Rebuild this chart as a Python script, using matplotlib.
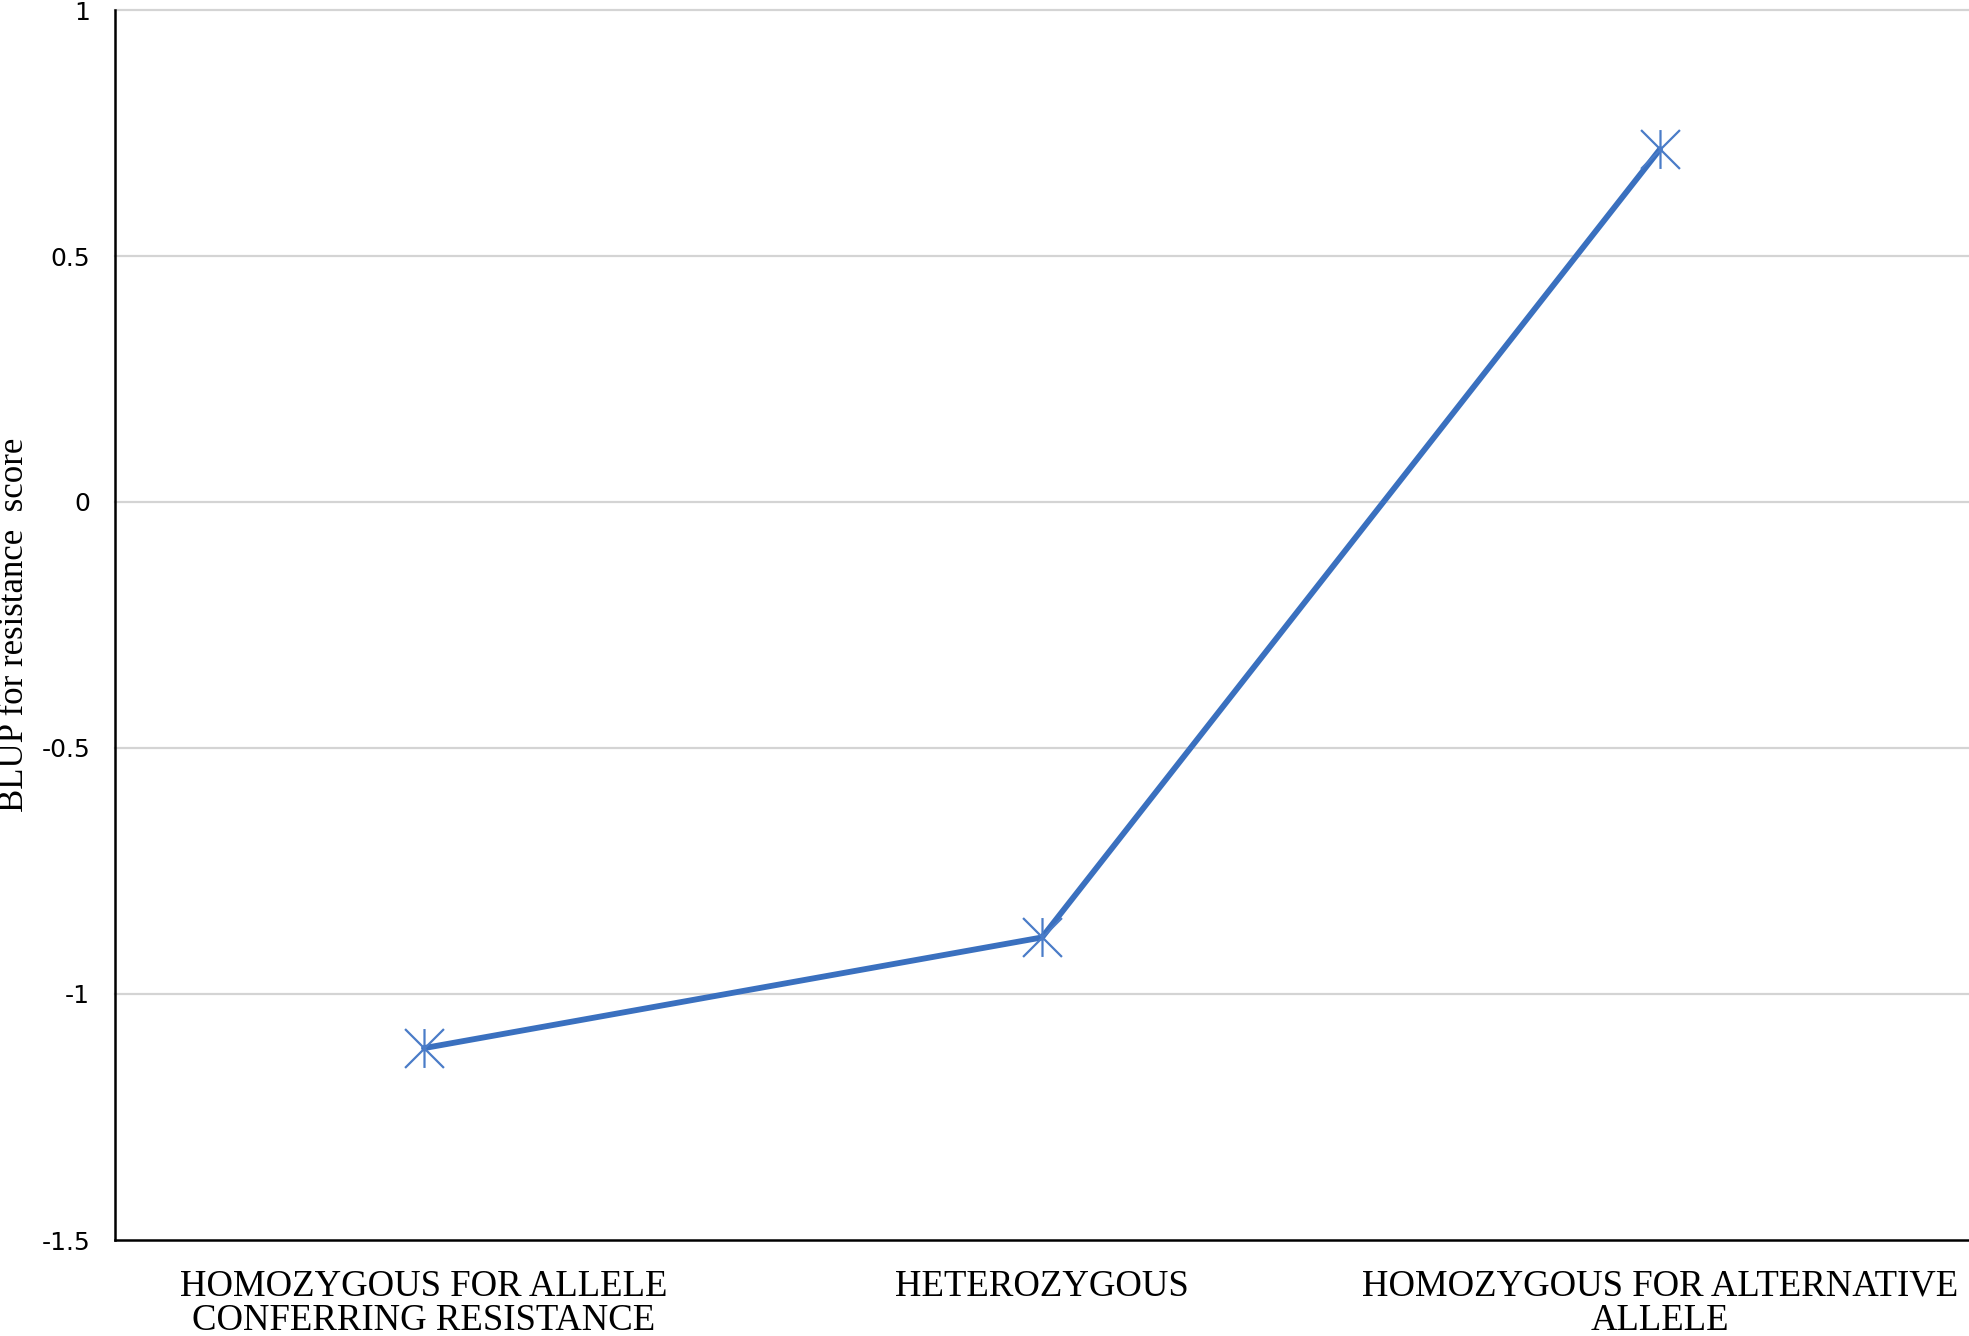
import numpy as np
import matplotlib.pyplot as plt
from matplotlib.path import Path

# data
categories = ["HOMOZYGOUS FOR ALLELE\nCONFERRING RESISTANCE",
              "HETEROZYGOUS",
              "HOMOZYGOUS FOR ALTERNATIVE\nALLELE"]
blup = [-1.11, -0.885, 0.717]
yticks = [-1.5, -1, -0.5, 0, 0.5, 1]
ytick_labels = ["-1.5", "-1", "-0.5", "0", "0.5", "1"]

line_color = "#3a70bf"
marker_color = "#4a7cc8"

# Excel style asterisk marker: vertical bar plus an X
star = Path([(0, -1), (0, 1), (-1, -1), (1, 1), (-1, 1), (1, -1)],
            [Path.MOVETO, Path.LINETO, Path.MOVETO, Path.LINETO, Path.MOVETO, Path.LINETO])

fig = plt.figure(figsize=(19.69, 13.36), dpi=100)
ax = fig.add_axes([115 / 1969, 1 - 1240 / 1336, 1 - 115 / 1969, (1240 - 10) / 1336])

x = np.arange(len(categories))
ax.plot(x, blup, color=line_color, lw=4.2, solid_capstyle="round", zorder=3)
ax.plot(x, blup, linestyle="none", marker=star, markersize=28, markeredgewidth=1.6,
        markeredgecolor=marker_color, markerfacecolor="none", zorder=4)

ax.set_xlim(-0.5, 2.5)
ax.set_ylim(-1.5, 1)
ax.set_yticks(yticks)
ax.set_yticklabels(ytick_labels, fontsize=18, family="DejaVu Sans")
ax.set_xticks(x)
ax.set_xticklabels(categories, fontsize=26.5, family="Liberation Serif", linespacing=1.0)
ax.tick_params(axis="both", length=0)
ax.tick_params(axis="y", pad=18)
ax.tick_params(axis="x", pad=21)

for v in yticks[1:]:
    ax.axhline(v, color="#d4d4d4", lw=1.6, zorder=1, clip_on=False)

for s in ["top", "right"]:
    ax.spines[s].set_visible(False)
ax.spines["left"].set_linewidth(1.8)
ax.spines["bottom"].set_linewidth(1.8)
ax.spines["left"].set_zorder(5)
ax.spines["bottom"].set_zorder(5)

fig.text(15 / 1969, 1 - 625 / 1336, "BLUP for resistance  score", rotation=90,
         ha="center", va="center", fontsize=25, family="Liberation Serif")

fig.savefig("out.png", dpi=100, facecolor="white")
